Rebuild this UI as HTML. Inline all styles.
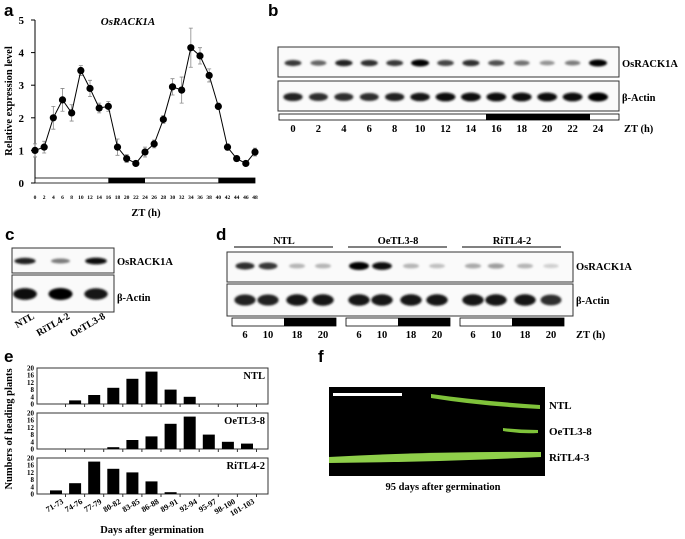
<!DOCTYPE html>
<html><head><meta charset="utf-8"><style>
body{margin:0;background:#fff;}
svg{display:block;font-family:"Liberation Serif",serif;font-weight:bold;}
.pl{font-family:"Liberation Sans",sans-serif;font-weight:bold;font-size:17px;}
</style></head><body>
<svg id="fig" width="685" height="539" viewBox="0 0 685 539">
<defs><filter id="bl" x="-50%" y="-100%" width="200%" height="300%"><feGaussianBlur stdDeviation="1"/></filter></defs>
<g id="pa"></g>
<g id="pb"></g>
<g id="pc"></g>
<g id="pd"></g>
<g id="pe"></g>
<g id="pf">
<text class="pl" x="318" y="362">f</text>
<rect x="329" y="387" width="216" height="89" fill="#000"/>
<rect x="333" y="393" width="69" height="3" fill="#fff"/>
<path d="M431 394 Q480 401 540 405 L540 409 Q480 406 431 398Z" fill="#7fc23a"/>
<path d="M503 428 Q520 430 538 430 L538 433 Q520 434 503 431Z" fill="#7fc23a"/>
<path d="M329 457 Q440 451 541 452 L541 457 Q440 462 329 463Z" fill="#8fcf4a"/>
<text x="549" y="409" font-size="11">NTL</text>
<text x="549" y="435" font-size="11">OeTL3-8</text>
<text x="549" y="461" font-size="11">RiTL4-3</text>
<text x="443" y="490" font-size="10.5" text-anchor="middle">95 days after germination</text>
</g>
</svg>
<script>
const NS='http://www.w3.org/2000/svg';
function mk(p,t,a,txt){const e=document.createElementNS(NS,t);for(const k in a)e.setAttribute(k,a[k]);if(txt!==undefined)e.textContent=txt;p.appendChild(e);return e;}
// Panel a data
const aHours=[0,2,4,6,8,10,12,14,16,18,20,22,24,26,28,30,32,34,36,38,40,42,44,46,48];
const aValues=[1.0,1.1,2.0,2.55,2.15,3.45,2.9,2.3,2.35,1.1,0.75,0.6,0.95,1.2,1.95,2.95,2.85,4.15,3.9,3.3,2.35,1.1,0.75,0.6,0.95];
const aErrors=[0.2,0.18,0.35,0.35,0.25,0.15,0.25,0.15,0.15,0.25,0.12,0.06,0.15,0.12,0.12,0.25,0.4,0.6,0.25,0.2,0.1,0.1,0.06,0.06,0.12];
const aYTicks=[0,1,2,3,4,5];
// Panel e data
const eCats=['71-73','74-76','77-79','80-82','83-85','86-88','89-91','92-94','95-97','98-100','101-103'];
const eNTL=[0,2,5,9,14,18,8,4,0,0,0];
const eOe=[0,0,0,1,5,7,14,18,8,4,3];
const eRi=[2,6,18,14,12,7,1,0,0,0,0];
const eYTicks=[0,4,8,12,16,20];
// Blot data (band intensity 0-1)
const bLanes=[0,2,4,6,8,10,12,14,16,18,20,22,24];
const bRack=[0.75,0.55,0.85,0.8,0.75,1.0,0.7,0.8,0.65,0.5,0.35,0.45,1.0];
const bActin=[0.85,0.8,0.8,0.8,0.85,0.9,0.95,0.95,0.95,0.95,0.95,0.95,1.0];
const cLanes=['NTL','RiTL4-2','OeTL3-8'];
const cRack=[0.85,0.45,0.95];
const cActin=[0.95,1.0,0.9];
const dGroups=['NTL','OeTL3-8','RiTL4-2'];
const dLanes=[6,10,18,20];
const dRack=[[0.8,0.75,0.2,0.2],[1.0,0.95,0.2,0.15],[0.25,0.3,0.2,0.08]];
const dActin=[[0.85,0.85,0.9,0.9],[0.9,0.9,0.9,0.9],[0.9,0.9,0.9,0.8]];

// ---------- Panel a
(function(){
const g=document.getElementById('pa');
const xs=h=>35+h*(220/48), ys=v=>183-v*32.6;
let e=mk(g,'text',{class:'pl',x:4,y:16});e.textContent='a';
e=mk(g,'text',{x:128,y:25,'font-size':11,'font-style':'italic','text-anchor':'middle'},'OsRACK1A');
e=mk(g,'line',{x1:35,y1:20,x2:35,y2:183,stroke:'#000','stroke-width':1});
aYTicks.forEach(t=>{e=mk(g,'line',{x1:31,x2:35,y1:ys(t),y2:ys(t),stroke:'#000'});
e=mk(g,'text',{x:24,y:ys(t)+4,'font-size':11,'text-anchor':'end'},t);});
e=mk(g,'text',{transform:'translate(12,101) rotate(-90)','font-size':10.5,'text-anchor':'middle'},'Relative expression level');
e=mk(g,'rect',{x:xs(0),y:178,width:xs(48)-xs(0),height:5,fill:'#fff',stroke:'#000','stroke-width':0.8});
[[16,24],[40,48]].forEach(r=>{e=mk(g,'rect',{x:xs(r[0]),y:178,width:xs(r[1])-xs(r[0]),height:5,fill:'#000'});});
aHours.forEach(h=>{e=mk(g,'text',{x:xs(h),y:199,'font-size':5.5,'text-anchor':'middle'},h);});
e=mk(g,'text',{x:146,y:216,'font-size':10.5,'text-anchor':'middle'},'ZT (h)');
aHours.forEach((h,i)=>{const x=xs(h);e=mk(g,'path',{d:`M${x} ${ys(aValues[i]-aErrors[i])}V${ys(aValues[i]+aErrors[i])}M${x-2} ${ys(aValues[i]-aErrors[i])}h4M${x-2} ${ys(aValues[i]+aErrors[i])}h4`,stroke:'#888','stroke-width':0.8,fill:'none'});});
e=mk(g,'polyline',{points:aHours.map((h,i)=>xs(h)+','+ys(aValues[i])).join(' '),fill:'none',stroke:'#000','stroke-width':1});
aHours.forEach((h,i)=>{e=mk(g,'circle',{cx:xs(h),cy:ys(aValues[i]),r:3.6,fill:'#000'});});
})();

function band(g,x,y,w,h,v){const c=Math.round(225-225*v);const e=mk(g,'ellipse',{cx:x,cy:y,rx:w*(0.75+0.25*v),ry:h*(0.5+0.5*v),fill:`rgb(${c},${c},${c})`,filter:'url(#bl)'});}
function box(g,x,y,w,h,n){const e=mk(g,'rect',{x,y,width:w,height:h,fill:'#fafafa',stroke:'#333','stroke-width':1});}
function txt(g,x,y,s,t,n,anc){const e=mk(g,'text',{x,y,'font-size':s,'text-anchor':anc||'start'},t);return e;}

// ---------- Panel b
(function(){
const g=document.getElementById('pb');
let e=mk(g,'text',{class:'pl',x:268,y:16},'b');
const xs=h=>293+h*(305/24);
box(g,278,47,341,30,'blot-osrack1a');box(g,278,81,341,30,'blot-actin');
bLanes.forEach((h,i)=>{band(g,xs(h),63,9,3.5,bRack[i]);band(g,xs(h),97,10,4.5,bActin[i]);
txt(g,xs(h),132,10.5,h,'zt-label','middle');});
e=mk(g,'rect',{x:279,y:114,width:340,height:6,fill:'#fff',stroke:'#000','stroke-width':0.8});
e=mk(g,'rect',{x:486,y:114,width:104,height:6,fill:'#000'});
txt(g,622,67,10.5,'OsRACK1A','label-osrack1a');txt(g,622,101,10.5,'β-Actin','label-actin');txt(g,624,132,10.5,'ZT (h)','zt-axis-title');
})();

// ---------- Panel c
(function(){
const g=document.getElementById('pc');
let e=mk(g,'text',{class:'pl',x:5,y:240},'c');
box(g,12,248,102,25,'blot-osrack1a');box(g,12,275,102,37,'blot-actin');
cLanes.forEach((n,i)=>{const x=25+i*35.5;band(g,x,261,11,3.5,cRack[i]);band(g,x,294,12,6,cActin[i]);
e=txt(g,x+10,318,10,n,'lane-label','end');e.setAttribute('transform',`rotate(-30 ${x+10} 318)`);});
txt(g,117,265,10.5,'OsRACK1A','label-osrack1a');txt(g,117,301,10.5,'β-Actin','label-actin');
})();

// ---------- Panel d
(function(){
const g=document.getElementById('pd');
let e=mk(g,'text',{class:'pl',x:216,y:240},'d');
box(g,227,252,346,30,'blot-osrack1a');box(g,227,284,346,32,'blot-actin');
const lx=[0,23,52,78];
dGroups.forEach((gn,gi)=>{const o=gi*114;
e=mk(g,'line',{x1:234+o,x2:333+o,y1:247,y2:247,stroke:'#000','stroke-width':1});
txt(g,284+o,244,10.5,gn,'group-label','middle');
e=mk(g,'rect',{x:232+o,y:318,width:104,height:8,fill:'#fff',stroke:'#000','stroke-width':0.8});
e=mk(g,'rect',{x:284+o,y:318,width:52,height:8,fill:'#000'});
dLanes.forEach((z,li)=>{const x=245+o+lx[li];band(g,x,266,10,4,dRack[gi][li]);band(g,x,300,11,6,dActin[gi][li]);
txt(g,x,338,10.5,z,'zt-label','middle');});});
txt(g,576,270,10.5,'OsRACK1A','label-osrack1a');txt(g,576,304,10.5,'β-Actin','label-actin');txt(g,576,338,10.5,'ZT (h)','zt-axis-title');
})();

// ---------- Panel e
(function(){
const g=document.getElementById('pe');
let e=mk(g,'text',{class:'pl',x:4,y:362},'e');
const xs=i=>56+i*19.1;
const subs=[[eNTL,404,'NTL'],[eOe,449,'OeTL3-8'],[eRi,494,'RiTL4-2']];
subs.forEach(s=>{const y0=s[1],ys=v=>y0-v*1.8;
e=mk(g,'rect',{x:37,y:y0-36,width:231,height:36,fill:'none',stroke:'#333','stroke-width':1});
eYTicks.forEach(t=>{txt(g,34,ys(t)+2.5,7,t,'y-tick-label','end');});
eCats.forEach((c,i)=>{e=mk(g,'line',{x1:xs(i)+9.5,x2:xs(i)+9.5,y1:y0,y2:y0+3,stroke:'#333'});
const v=s[0][i];e=mk(g,'rect',{x:xs(i)-6,y:ys(v),width:12,height:y0-ys(v),fill:'#000'});});
txt(g,265,y0-25,10.5,s[2],'series-label','end');});
eCats.forEach((c,i)=>{e=txt(g,xs(i)+8,503,8,c,'x-tick-label','end');e.setAttribute('transform',`rotate(-30 ${xs(i)+8} 503)`);});
e=txt(g,12,429,10.5,'Numbers of heading plants','y-axis-title','middle');e.setAttribute('transform','rotate(-90 12 429)');
txt(g,152,533,10.5,'Days after germination','x-axis-title','middle');
})();
</script>
</body></html>
